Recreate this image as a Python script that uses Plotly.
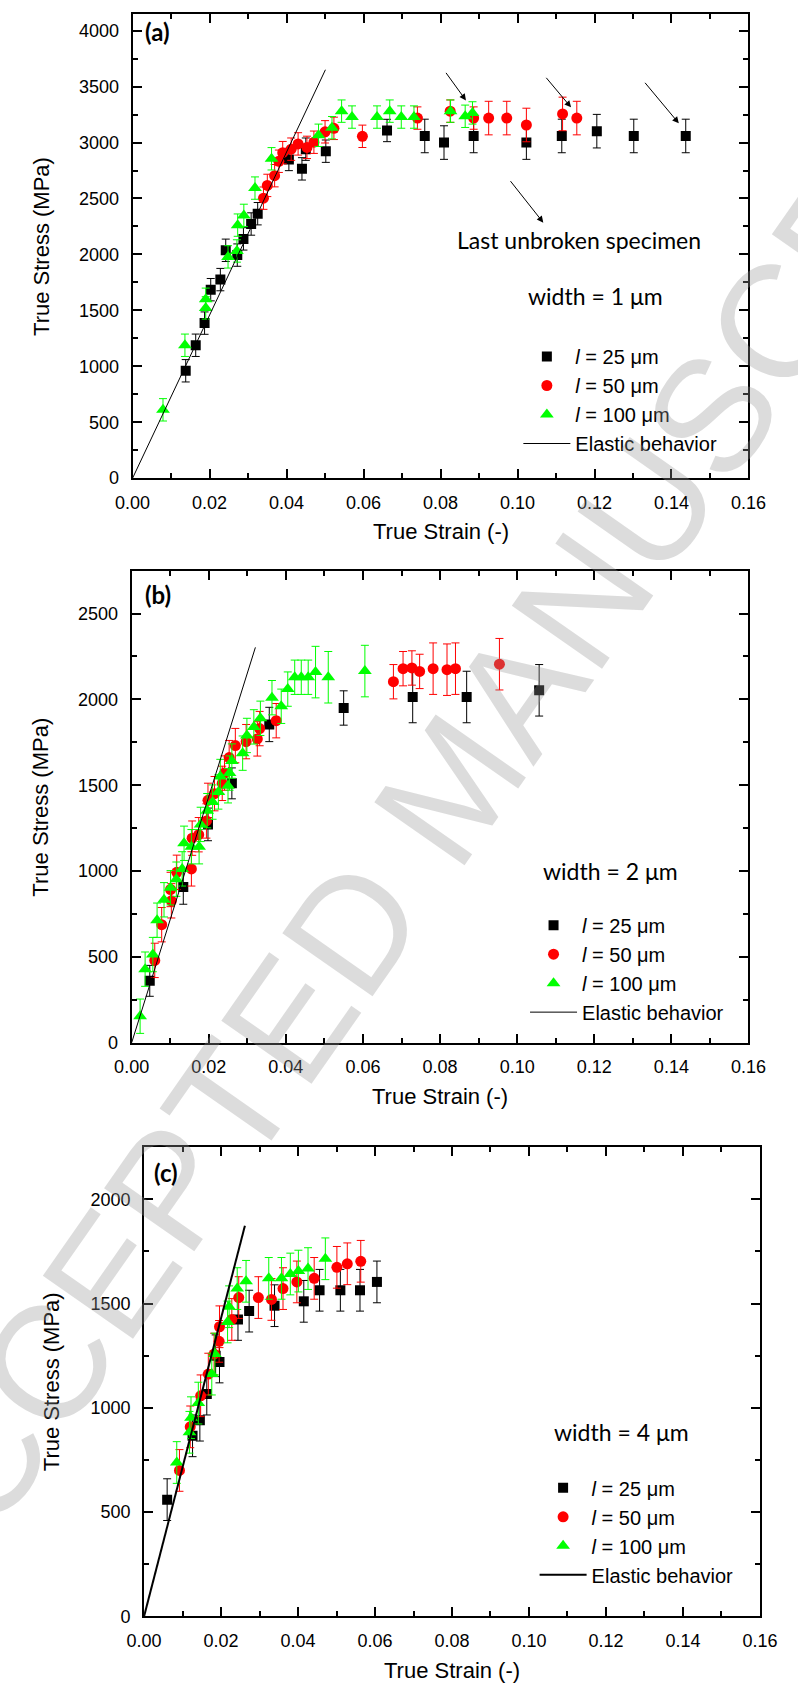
import plotly.graph_objects as go

# ---------------- data ----------------
strain_ticks = [0.00, 0.02, 0.04, 0.06, 0.08, 0.10, 0.12, 0.14, 0.16]
strain_ticktext = ["0.00", "0.02", "0.04", "0.06", "0.08", "0.10", "0.12", "0.14", "0.16"]
series_names = ["<i>l</i> = 25 \u03bcm", "<i>l</i> = 50 \u03bcm", "<i>l</i> = 100 \u03bcm"]
elastic_name = "Elastic behavior"

# panel (a): width = 1 um
a25_x = [0.0138, 0.0164, 0.0187, 0.0203, 0.0228, 0.0242, 0.0272, 0.0288, 0.0308, 0.0325, 0.0406, 0.0440,
         0.0450, 0.0502, 0.0661, 0.0759, 0.0809, 0.0886, 0.1023, 0.1115, 0.1206, 0.1302, 0.1437]
a25_y = [960, 1188, 1386, 1685, 1775, 2037, 1994, 2139, 2272, 2364, 2849, 2765,
         2941, 2923, 3108, 3059, 3000, 3059, 3000, 3059, 3102, 3059, 3059]
a25_e = [100, 100, 100, 100, 100, 100, 100, 100, 100, 100, 100, 100,
         100, 100, 100, 150, 150, 150, 150, 150, 150, 150, 150]
a50_x = [0.0340, 0.0350, 0.0369, 0.0380, 0.0390, 0.0412, 0.0430, 0.0453, 0.0471, 0.0500, 0.0523, 0.0597,
         0.0740, 0.0825, 0.0886, 0.0925, 0.0972, 0.1023, 0.1117, 0.1154]
a50_y = [2503, 2617, 2704, 2833, 2910, 2941, 2988, 2957, 3003, 3096, 3127, 3056,
         3219, 3281, 3219, 3219, 3219, 3157, 3256, 3219]
a50_e = [100, 100, 100, 100, 100, 100, 100, 100, 100, 100, 100, 100,
         100, 100, 100, 150, 150, 150, 150, 150]
a100_x = [0.0079, 0.0136, 0.0190, 0.0190, 0.0248, 0.0271, 0.0273, 0.0289, 0.0318, 0.0361, 0.0483, 0.0518,
          0.0543, 0.0570, 0.0635, 0.0668, 0.0698, 0.0731, 0.0826, 0.0864, 0.0883]
a100_y = [611, 1188, 1522, 1599, 1978, 2031, 2262, 2349, 2593, 2855, 3065, 3133,
          3281, 3228, 3228, 3281, 3228, 3228, 3281, 3235, 3265]
a100_e = [100] * 21
a_elastic_x = [0.0, 0.0501]
a_elastic_y = [0, 3651]

# panel (b): width = 2 um
b25_x = [0.0047, 0.0134, 0.0198, 0.0260, 0.0357, 0.0550, 0.0729, 0.0869, 0.1057]
b25_y = [361, 907, 1272, 1511, 1854, 1950, 2014, 2014, 2053]
b25_e = [90, 100, 95, 90, 100, 100, 150, 150, 150]
b50_x = [0.0060, 0.0078, 0.0101, 0.0103, 0.0117, 0.0155, 0.0157, 0.0174, 0.0194, 0.0198, 0.0215, 0.0235,
         0.0241, 0.0253, 0.0269, 0.0297, 0.0326, 0.0332, 0.0375, 0.0679, 0.0704, 0.0727, 0.0747, 0.0782,
         0.0818, 0.0840, 0.0954]
b50_y = [480, 688, 893, 827, 993, 1013, 1192, 1212, 1292, 1412, 1451, 1511,
         1571, 1661, 1731, 1754, 1770, 1830, 1876, 2103, 2179, 2183, 2163, 2179,
         2173, 2179, 2205]
b50_e = [100] * 23 + [150] * 4
b100_x = [0.0022, 0.0035, 0.0055, 0.0066, 0.0084, 0.0101, 0.0116, 0.0131, 0.0136, 0.0155, 0.0175, 0.0179,
          0.0196, 0.0210, 0.0225, 0.0230, 0.0250, 0.0254, 0.0260, 0.0288, 0.0299, 0.0317, 0.0334, 0.0364,
          0.0388, 0.0405, 0.0423, 0.0440, 0.0458, 0.0477, 0.0510, 0.0605]
b100_y = [155, 429, 514, 714, 833, 903, 953, 1013, 1162, 1142, 1142, 1272,
          1352, 1402, 1461, 1551, 1497, 1571, 1641, 1687, 1790, 1840, 1890, 2010,
          1960, 2060, 2129, 2129, 2129, 2159, 2129, 2165]
b100_e = [100] * 29 + [150] * 3
b_elastic_x = [0.0, 0.0321]
b_elastic_y = [0, 2303]

# panel (c): width = 4 um
c25_x = [0.0060, 0.0126, 0.0145, 0.0163, 0.0186, 0.0196, 0.0244, 0.0273, 0.0339, 0.0415, 0.0456, 0.0510,
         0.0561, 0.0605]
c25_y = [560, 866, 941, 1066, 1250, 1220, 1424, 1464, 1490, 1511, 1564, 1564, 1564, 1604]
c25_e = [100] * 14
c50_x = [0.0092, 0.0120, 0.0147, 0.0167, 0.0182, 0.0195, 0.0196, 0.0228, 0.0246, 0.0297, 0.0331, 0.0361,
         0.0397, 0.0442, 0.0501, 0.0528, 0.0563]
c50_y = [700, 909, 1058, 1162, 1258, 1319, 1389, 1424, 1529, 1529, 1520, 1572, 1604, 1621, 1674, 1691, 1703]
c50_e = [100] * 17
c100_x = [0.0085, 0.0118, 0.0122, 0.0141, 0.0176, 0.0184, 0.0217, 0.0221, 0.0242, 0.0265, 0.0324, 0.0357,
          0.0380, 0.0401, 0.0426, 0.0471]
c100_y = [738, 883, 953, 1023, 1162, 1258, 1412, 1485, 1572, 1607, 1621, 1621, 1642, 1656, 1668, 1715]
c100_e = [100] * 16
c_elastic_x = [0.0, 0.0262]
c_elastic_y = [0, 1873]

# ---------------- layout helpers ----------------
W, H = 798, 1698
def fx(px):
    return px / W
def fy(py):
    return 1 - py / H

TICK_FONT = dict(family="Liberation Sans, Arial", size=18, color="black")
TITLE_FONT = dict(family="Liberation Sans, Arial", size=22, color="black")
CAL_FONT = dict(family="Lato, Open Sans", size=23, color="black")
LEG_FONT = dict(family="Liberation Sans, Arial", size=20, color="black")

panels = [
    dict(sfx="", leg="legend", box=(120, 765, 14, 481), ymax=4150, ytick=500,
         data=[(a25_x, a25_y, a25_e), (a50_x, a50_y, a50_e), (a100_x, a100_y, a100_e)],
         el=(a_elastic_x, a_elastic_y), elw=1, label="(a)", label_pos=(146, 32),
         width_text="width = 1 \u03bcm", width_pos=(605, 298), leg_pos=(524, 339), ytitle_x=24,
         xtitle_gap=54),
    dict(sfx="2", leg="legend2", box=(119, 765, 574, 1049), ymax=2750, ytick=500,
         data=[(b25_x, b25_y, b25_e), (b50_x, b50_y, b50_e), (b100_x, b100_y, b100_e)],
         el=(b_elastic_x, b_elastic_y), elw=1, label="(b)", label_pos=(147, 598),
         width_text="width = 2 \u03bcm", width_pos=(620, 876), leg_pos=(531, 911), ytitle_x=24,
         xtitle_gap=54),
    dict(sfx="3", leg="legend3", box=(132, 777, 1154, 1626), ymax=2250, ytick=500,
         data=[(c25_x, c25_y, c25_e), (c50_x, c50_y, c50_e), (c100_x, c100_y, c100_e)],
         el=(c_elastic_x, c_elastic_y), elw=2, label="(c)", label_pos=(155, 1179),
         width_text="width = 4 \u03bcm", width_pos=(632, 1440), leg_pos=(541, 1477), ytitle_x=35,
         xtitle_gap=54),
]

styles = [
    dict(symbol="square", size=10, color="#000000"),
    dict(symbol="circle", size=11, color="#ff0000"),
    dict(symbol="triangle-up", size=12, color="#00ff00"),
]

fig = go.Figure()
annotations = []
layout = dict(width=W, height=H, margin=dict(l=0, r=0, t=0, b=0),
              paper_bgcolor="white", plot_bgcolor="white", showlegend=True)

for p in panels:
    sfx = p["sfx"]
    xa, ya = "x" + sfx, "y" + sfx
    for (xs, ys, es), st, nm in zip(p["data"], styles, series_names):
        fig.add_trace(go.Scatter(
            x=xs, y=ys, mode="markers", name=nm, xaxis=xa, yaxis=ya, legend=p["leg"],
            marker=dict(symbol=st["symbol"], size=st["size"], color=st["color"], line=dict(width=0)),
            error_y=dict(type="data", array=es, visible=True, color=st["color"], thickness=1, width=4),
        ))
    fig.add_trace(go.Scatter(
        x=p["el"][0], y=p["el"][1], mode="lines", name=elastic_name, xaxis=xa, yaxis=ya,
        legend=p["leg"], line=dict(color="black", width=p["elw"]),
    ))
    x0, x1, y0, y1 = p["box"]
    axis_common = dict(showline=True, linewidth=2, linecolor="black", mirror="allticks",
                       ticks="inside", ticklen=9, tickwidth=1.5, tickcolor="black",
                       showgrid=False, zeroline=False, tickfont=TICK_FONT)
    layout["xaxis" + sfx] = dict(axis_common, domain=[fx(x0), fx(x1)], range=[0, 0.16],
                                 tickvals=strain_ticks, ticktext=strain_ticktext,
                                 anchor=ya, ticklabelstandoff=7,
                                 minor=dict(dtick=0.01, ticks="inside", ticklen=5, tickwidth=1.5,
                                            tickcolor="black", showgrid=False))
    layout["yaxis" + sfx] = dict(axis_common, domain=[fy(y1), fy(y0)], range=[0, p["ymax"]],
                                 dtick=p["ytick"], tick0=0, anchor=xa, ticklabelstandoff=8,
                                 minor=dict(dtick=p["ytick"] / 2, ticks="inside", ticklen=5,
                                            tickwidth=1.5, tickcolor="black", showgrid=False))
    lx, ly = p["leg_pos"]
    layout[p["leg"]] = dict(x=fx(lx), y=fy(ly), xanchor="left", yanchor="top",
                            bgcolor="rgba(0,0,0,0)", borderwidth=0, font=LEG_FONT,
                            itemwidth=47, traceorder="normal", tracegroupgap=0)
    # axis titles
    annotations.append(dict(text="True Strain (-)", x=fx((x0 + x1) / 2), y=fy(y1 + p["xtitle_gap"]),
                            xref="paper", yref="paper", showarrow=False, font=TITLE_FONT,
                            xanchor="center", yanchor="middle"))
    annotations.append(dict(text="True Stress (MPa)", x=fx(p["ytitle_x"]), y=fy((y0 + y1) / 2),
                            xref="paper", yref="paper", showarrow=False, font=TITLE_FONT,
                            textangle=-90, xanchor="center", yanchor="middle"))
    # panel label and width text
    annotations.append(dict(text="<b>" + p["label"] + "</b>", x=fx(p["label_pos"][0]),
                            y=fy(p["label_pos"][1]), xref="paper", yref="paper", showarrow=False,
                            font=dict(family="Lato, Open Sans", size=24, color="black"),
                            xanchor="center", yanchor="middle"))
    annotations.append(dict(text=p["width_text"], x=fx(p["width_pos"][0]), y=fy(p["width_pos"][1]),
                            xref="paper", yref="paper", showarrow=False, font=CAL_FONT,
                            xanchor="center", yanchor="middle"))

# panel (a) arrows and note
annotations.append(dict(text="Last unbroken specimen", x=fx(587), y=fy(241), xref="paper",
                        yref="paper", showarrow=False, font=CAL_FONT,
                        xanchor="center", yanchor="middle"))
arrow_tips = [(0.0866, 3377, -21, -29), (0.1139, 3315, -26, -31),
              (0.1419, 3172, -35, -42), (0.1067, 2284, -34, -43)]
for tx, ty, dx, dy in arrow_tips:
    annotations.append(dict(x=tx, y=ty, xref="x", yref="y", ax=dx, ay=dy, text="",
                            showarrow=True, arrowhead=2, arrowsize=1.3, arrowwidth=1,
                            arrowcolor="black"))

# journal watermark
annotations.append(dict(text="ACCEPTED MANUSCRIPT", x=fx(455), y=fy(790), xref="paper",
                        yref="paper", showarrow=False, textangle=-55,
                        font=dict(family="Liberation Sans, Arial", size=160,
                                  color="rgba(150,150,150,0.33)"),
                        xanchor="center", yanchor="middle"))

layout["annotations"] = annotations
fig.update_layout(**layout)

fig.write_html("out.html", config={"displayModeBar": False},
               post_script="document.body.style.margin='0px';")
